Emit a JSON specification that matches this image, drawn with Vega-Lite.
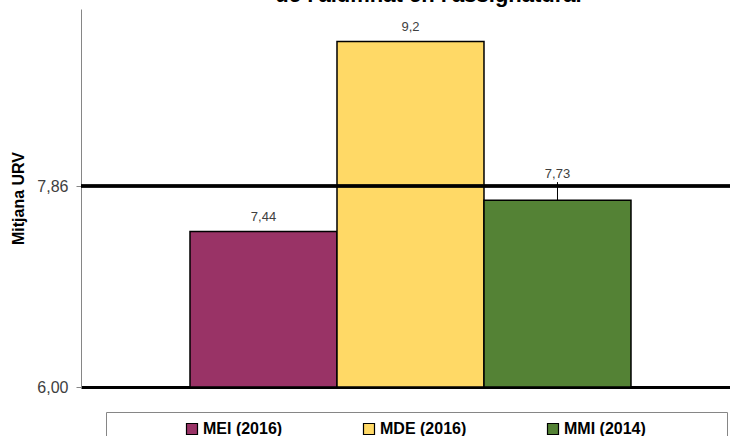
{
  "$schema": "https://vega.github.io/schema/vega-lite/v6.json",
  "autosize": "none",
  "width": 649,
  "height": 378,
  "padding": {"left": 81, "top": 9, "right": 0, "bottom": 49},
  "config": {
    "locale": {"number": {"decimal": ",", "thousands": ".", "grouping": [3], "currency": ["", " €"]}},
    "view": {"stroke": null},
    "font": "Liberation Sans"
  },
  "title": {
    "text": "de l'alumnat en l'assignatura.",
    "fontSize": 22,
    "fontWeight": "bold",
    "color": "#000000",
    "anchor": "middle",
    "dx": 23,
    "offset": 2
  },
  "data": {
    "values": [
      {"serie": "MEI (2016)", "mitjana": 7.44, "etiqueta": "7,44"},
      {"serie": "MDE (2016)", "mitjana": 9.2, "etiqueta": "9,2"},
      {"serie": "MMI (2014)", "mitjana": 7.73, "etiqueta": "7,73"}
    ]
  },
  "encoding": {
    "x": {
      "field": "serie",
      "type": "nominal",
      "sort": null,
      "scale": {"paddingInner": 0, "paddingOuter": 0.7075, "align": 0.524},
      "axis": {"labels": false, "ticks": false, "title": null, "domainColor": "#000000", "domainWidth": 3}
    }
  },
  "layer": [
    {
      "mark": {"type": "bar", "stroke": "#000000", "strokeWidth": 1.5},
      "encoding": {
        "y": {
          "field": "mitjana",
          "type": "quantitative",
          "scale": {"domain": [6, 9.5], "zero": false, "nice": false},
          "axis": {
            "values": [6, 7.86],
            "format": ".2f",
            "grid": false,
            "domainColor": "#868686",
            "tickColor": "#868686",
            "tickSize": 5,
            "labelFontSize": 16,
            "labelColor": "#404040",
            "labelPadding": 8,
            "title": "Mitjana URV",
            "titleFontSize": 16,
            "titleFontWeight": "bold",
            "titleColor": "#000000",
            "titlePadding": 10
          }
        },
        "y2": {"datum": 6},
        "color": {
          "field": "serie",
          "type": "nominal",
          "sort": null,
          "scale": {"range": ["#993366", "#FFD966", "#548235"]},
          "legend": {
            "orient": "none",
            "legendX": 25,
            "legendY": 403,
            "direction": "horizontal",
            "title": " ",
            "titleOrient": "left",
            "titleFontSize": 1,
            "titlePadding": 69,
            "symbolType": "square",
            "symbolSize": 121,
            "symbolStrokeColor": "#000000",
            "symbolStrokeWidth": 1.2,
            "symbolOpacity": 1,
            "labelFontSize": 16,
            "labelFontWeight": "bold",
            "labelColor": "#000000",
            "labelOffset": 3,
            "labelLimit": 400,
            "labelExpr": "datum.label === 'MMI (2014)' ? datum.label + '\u2800\u2800\u2800\u2800\u2800\u2800' : datum.label",
            "columnPadding": 78,
            "gridAlign": "none",
            "padding": 9,
            "strokeColor": "#868686",
            "fillColor": "#ffffff"
          }
        }
      }
    },
    {
      "mark": {"type": "rule", "color": "#000000", "strokeWidth": 3},
      "encoding": {"y": {"datum": 7.86, "type": "quantitative"}, "x": null}
    },
    {
      "transform": [{"filter": "datum.serie === 'MMI (2014)'"}],
      "mark": {"type": "rule", "color": "#000000", "strokeWidth": 1, "y2Offset": -4},
      "encoding": {
        "y": {"field": "mitjana", "type": "quantitative"},
        "y2": {"datum": 7.86}
      }
    },
    {
      "transform": [{"filter": "datum.serie !== 'MMI (2014)'"}],
      "mark": {"type": "text", "fontSize": 13, "color": "#404040", "baseline": "middle", "dy": -14},
      "encoding": {
        "y": {"field": "mitjana", "type": "quantitative"},
        "text": {"field": "etiqueta"}
      }
    },
    {
      "transform": [{"filter": "datum.serie === 'MMI (2014)'"}],
      "mark": {"type": "text", "fontSize": 13, "color": "#404040", "baseline": "middle", "dy": -26},
      "encoding": {
        "y": {"field": "mitjana", "type": "quantitative"},
        "text": {"field": "etiqueta"}
      }
    }
  ]
}
